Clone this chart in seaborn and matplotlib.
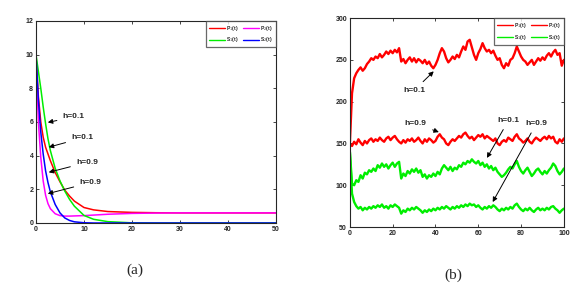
import numpy as np
import matplotlib
matplotlib.use("Agg")
import matplotlib.pyplot as plt
import seaborn as sns

# ---- panel (a): deterministic decay ----
t_a = [0, 0.5, 1, 1.5, 2, 2.5, 3, 4, 5, 6, 7, 8, 10, 12, 15, 20, 25, 30, 40, 50]
p1_a = [10, 7.5, 6.0, 5.1, 4.5, 4.1, 3.7, 3.0, 2.45, 1.95, 1.6, 1.3, 0.92, 0.78, 0.68, 0.63, 0.61, 0.6, 0.6, 0.6]
p2_a = [10, 6.0, 3.9, 2.5, 1.65, 1.15, 0.85, 0.55, 0.44, 0.41, 0.41, 0.42, 0.44, 0.47, 0.52, 0.57, 0.59, 0.6, 0.6, 0.6]
s1_a = [10, 9.0, 8.0, 6.9, 5.9, 5.0, 4.3, 3.25, 2.5, 1.9, 1.4, 1.0, 0.45, 0.22, 0.08, 0.01, 0, 0, 0, 0]
s2_a = [10, 7.3, 5.4, 4.1, 3.1, 2.4, 1.85, 1.1, 0.6, 0.3, 0.15, 0.07, 0.015, 0, 0, 0, 0, 0, 0, 0]

# ---- panel (b): stochastic paths, t = 0..100 ----
p1_b = [150, 210, 228, 234, 238, 241, 237, 240, 245, 248,
        252, 250, 254, 252, 257, 253, 256, 260, 257, 261,
        258, 262, 259, 264, 248, 251, 246, 250, 253, 248,
        252, 247, 251, 249, 246, 250, 245, 248, 243, 240,
        244, 250, 258, 264, 260, 252, 247, 250, 254, 251,
        256, 253, 260, 266, 262, 272, 274, 265, 256, 250,
        258, 263, 270, 264, 260, 262, 258, 261, 255, 250,
        252, 244, 240, 246, 243, 250, 252, 258, 266, 260,
        254, 250, 248, 244, 247, 250, 244, 248, 252, 249,
        253, 250, 255, 258, 254, 259, 262, 256, 258, 243,
        250]
p2_b = [150, 147, 152, 149, 155, 151, 148, 153, 150, 154,
        156, 152, 155, 153, 157, 154, 152, 156, 158, 154,
        157, 159, 155, 152, 150, 154, 151, 155, 153, 156,
        152, 154, 157, 153, 150, 155, 152, 156, 154, 151,
        153, 158, 161, 157, 155, 150, 148, 152, 155, 153,
        156, 159, 157, 161, 163, 159, 156, 158, 154, 157,
        160, 158, 161, 156, 159, 157, 155, 153, 156, 150,
        148, 152, 154, 152, 157, 155, 153, 158, 161, 156,
        154, 151, 153, 156, 152, 150, 154, 157, 155, 153,
        156, 158, 155, 159, 156, 158, 152, 150, 155, 152,
        156]
s1_b = [140, 102, 100, 106, 104, 112, 108, 115, 113, 118,
        116, 120, 117, 124, 121, 126, 122, 125, 120, 124,
        127, 122, 126, 128, 108, 114, 111, 117, 114, 119,
        116, 120, 115, 118, 110, 113, 108, 112, 110, 114,
        111, 116, 113, 120, 124, 121, 118, 122, 117, 121,
        119, 124, 122, 127, 125, 129, 127, 131, 128, 126,
        129, 124, 127, 122, 125, 120, 123, 118, 121, 116,
        113, 110, 112, 115, 119, 122, 120, 125, 129, 122,
        117, 114, 118, 121, 116, 111, 114, 118, 120, 116,
        113, 117, 114, 118, 121, 126, 123, 117, 113, 116,
        120]
s2_b = [140, 90, 80, 75, 72, 74, 70, 73, 71, 74,
        72, 75, 73, 76, 74, 77, 73, 75, 72, 76,
        74, 77, 75, 73, 66, 70, 68, 72, 70, 73,
        71, 74, 72, 70, 67, 70, 68, 71, 69, 72,
        70, 73, 71, 74, 72, 75, 73, 71, 74, 72,
        75, 73, 76, 74, 77, 75, 78, 76, 77, 74,
        76, 73, 71, 74, 72, 75, 73, 76, 74, 71,
        69, 72, 70, 73, 71, 74, 72, 76, 78, 74,
        71, 69, 72, 70, 73, 70, 68, 71, 73, 70,
        72, 70, 73, 71, 74, 75, 72, 70, 67, 70,
        72]
t_b = np.arange(len(p1_b))

RED, MAG, GRN, BLU = "#ff0000", "#ff00ff", "#00ee00", "#0000ff"

sns.set_style("ticks")
plt.rcParams['font.family'] = ['Liberation Sans', 'DejaVu Sans']

fig = plt.figure(figsize=(5.88, 2.87), dpi=100)
ax1 = fig.add_axes([0.0612, 0.223, 0.408, 0.704])
ax2 = fig.add_axes([0.595, 0.209, 0.364, 0.728])

lw = 1.1
sns.lineplot(x=t_a, y=p1_a, ax=ax1, color=RED, lw=lw, label="P$_1$(t)")
sns.lineplot(x=t_a, y=p2_a, ax=ax1, color=MAG, lw=lw, label="P$_2$(t)")
sns.lineplot(x=t_a, y=s1_a, ax=ax1, color=GRN, lw=lw, label="S$_1$(t)")
sns.lineplot(x=t_a, y=s2_a, ax=ax1, color=BLU, lw=lw, label="S$_2$(t)")
ax1.set_xlim(0, 50)
ax1.set_ylim(0, 12)
ax1.set_xticks(range(0, 51, 10))
ax1.set_yticks(range(0, 13, 2))

lwb = 1.7
sns.lineplot(x=t_b, y=p1_b, ax=ax2, color=RED, lw=lwb, label="P$_1$(t)")
sns.lineplot(x=t_b, y=p2_b, ax=ax2, color=RED, lw=lwb, label="P$_2$(t)")
sns.lineplot(x=t_b, y=s1_b, ax=ax2, color=GRN, lw=lwb, label="S$_1$(t)")
sns.lineplot(x=t_b, y=s2_b, ax=ax2, color=GRN, lw=lwb, label="S$_2$(t)")
ax2.set_xlim(0, 100)
ax2.set_ylim(50, 300)
ax2.set_xticks(range(0, 101, 20))
ax2.set_yticks(range(50, 301, 50))

for ax in (ax1, ax2):
    for s in ax.spines.values():
        s.set_visible(True)
        s.set_linewidth(0.8)
    ax.tick_params(direction="in", top=True, right=True, length=2.5, width=0.6,
                   labelsize=5, pad=2)
    for lab in ax.get_xticklabels() + ax.get_yticklabels():
        lab.set_fontweight("bold")
    h, l = ax.get_legend_handles_labels()
    # row-wise order: P1 P2 / S1 S2
    order = [0, 2, 1, 3]
    leg = ax.legend([h[i] for i in order], [l[i] for i in order],
                    loc="upper right", ncol=2, fontsize=3.6, frameon=True,
                    fancybox=False, edgecolor="#444444", borderaxespad=0.0,
                    handlelength=3.2, columnspacing=0.8, handletextpad=0.3,
                    labelspacing=0.5, borderpad=0.6)
    leg.get_frame().set_linewidth(0.9)
    for line in leg.get_lines():
        line.set_linewidth(1.0)
    for txt in leg.get_texts():
        txt.set_fontweight("bold")

arr = dict(arrowstyle="-|>", color="black", lw=0.7, mutation_scale=7)
kw = dict(fontsize=6, fontweight="bold", va="center", ha="left")
ax1.annotate("h=0.1", xy=(1.9, 5.94), xytext=(5.6, 6.3), arrowprops=arr, **kw)
ax1.annotate("h=0.1", xy=(2.1, 4.46), xytext=(7.4, 5.05), arrowprops=arr, **kw)
ax1.annotate("h=0.9", xy=(2.1, 2.97), xytext=(8.4, 3.6), arrowprops=arr, **kw)
ax1.annotate("h=0.9", xy=(1.9, 1.7), xytext=(9.1, 2.4), arrowprops=arr, **kw)

ax2.annotate("h=0.1", xy=(40.1, 238.6), xytext=(24.9, 213.5), arrowprops=arr, **kw)
ax2.annotate("h=0.9", xy=(42.8, 162.4), xytext=(25.7, 173.6), arrowprops=arr, **kw)
ax2.annotate("h=0.1", xy=(63.4, 129.8), xytext=(69.0, 177.6), arrowprops=arr, **kw)
ax2.annotate("h=0.9", xy=(66.1, 77.0), xytext=(82.0, 173.6), arrowprops=arr, **kw)

fig.text(135 / 588, 1 - 270 / 287, "(a)", fontsize=11, family="Liberation Serif",
         ha="center", va="center")
fig.text(453 / 588, 1 - 275 / 287, "(b)", fontsize=11, family="Liberation Serif",
         ha="center", va="center")

fig.savefig("out.png", dpi=100)
